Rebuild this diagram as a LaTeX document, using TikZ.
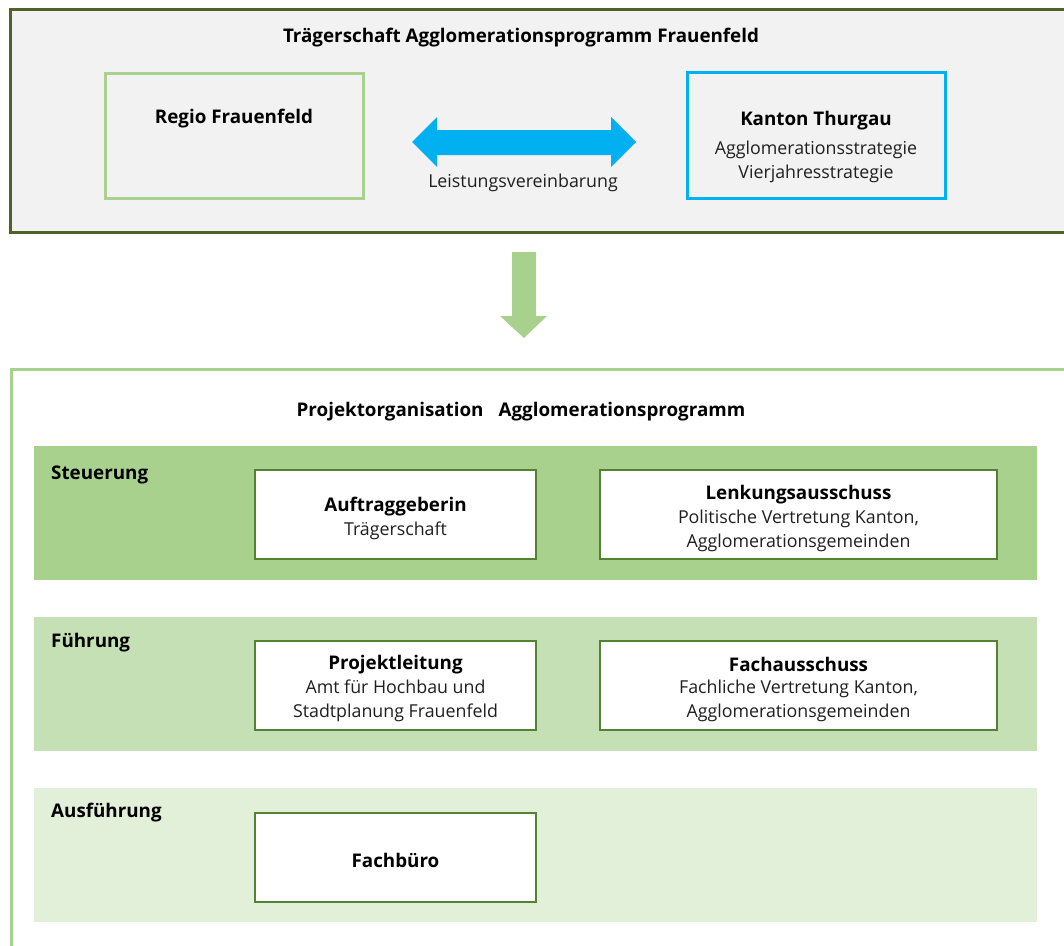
\documentclass[tikz,border=0pt]{standalone}
\usepackage{fontspec}
\setmainfont{Open Sans}
\definecolor{darkg}{HTML}{4F6228}
\definecolor{lightg}{HTML}{A9D18E}
\definecolor{midg}{HTML}{C5E0B4}
\definecolor{paleg}{HTML}{E2F0D9}
\definecolor{boxg}{HTML}{548235}
\definecolor{sky}{HTML}{00B0F0}
\definecolor{grayf}{HTML}{F2F2F2}
\begin{document}
\begin{tikzpicture}[x=1pt,y=-1pt,
  txt/.style={font=\fontsize{17.8}{24}\selectfont, align=center, inner sep=0pt, text=black!88, yshift=-2.5pt},
  btxt/.style={font=\fontsize{18.8}{24}\selectfont\bfseries, align=center, inner sep=0pt, text=black, yshift=-2.5pt},
  orgbox/.style={draw=boxg, line width=2pt, fill=white, minimum width=281pt, minimum height=89pt, inner sep=0pt},
  widebox/.style={draw=boxg, line width=2pt, fill=white, minimum width=397pt, minimum height=89pt, inner sep=0pt},
  band/.style={draw=none, minimum width=1003pt, minimum height=134pt, inner sep=0pt}]
\clip (0,0) rectangle (1064,945);
\fill[white] (0,0) rectangle (1064,945);
% top frame
\draw[darkg, line width=3pt, fill=grayf] (10,9) rectangle (1080,232);
\node[btxt] (toptitle) at (521,35) {Trägerschaft Agglomerationsprogramm Frauenfeld};
\node[draw=lightg, line width=3pt, minimum width=258pt, minimum height=125pt, inner sep=0pt] (regio) at (234,135.5) {};
\node[btxt] (regiot) at (234,116) {Regio Frauenfeld};
\node[draw=sky, line width=3pt, minimum width=258pt, minimum height=126pt, inner sep=0pt] (kanton) at (816,135) {};
\node[btxt] (kantont) at (816,118) {Kanton Thurgau};
\node[txt] (kantons) at (816,159) {Agglomerationsstrategie\\Vierjahresstrategie};
% double arrow
\coordinate (dl) at (412,142);
\coordinate (dr) at (636,142);
\fill[sky] (dl) -- (437,117) -- (437,130) -- (611,130) -- (611,117) -- (dr) -- (611,167) -- (611,155) -- (437,155) -- (437,167) -- cycle;
\node[txt] (leist) at (523,180) {Leistungsvereinbarung};
% down arrow
\coordinate (tip) at (524,338);
\fill[lightg] (512,252) -- (536,252) -- (536,316) -- (547,316) -- (tip) -- (500,316) -- (512,316) -- cycle;
% bottom frame
\draw[lightg, line width=3pt, fill=white] (11.5,369) rectangle (1080,960);
\node[btxt] (bottitle) at (521,409) {Projektorganisation\hspace{0.8em}Agglomerationsprogramm};
% bands
\node[band, fill=lightg] (steu) at (535.5,513) {};
\node[band, fill=midg] (fueh) at (535.5,683.5) {};
\node[band, fill=paleg] (ausf) at (535.5,855) {};
\node[btxt, anchor=west] (steul) at (51,472) {Steuerung};
\node[btxt, anchor=west] (fuehl) at (51,640) {Führung};
\node[btxt, anchor=west] (ausfl) at (51,810) {Ausführung};
% boxes
\node[orgbox] (auftrag) at (395.5,514.5) {};
\node[btxt] (auftragt) at (395.5,504) {Auftraggeberin};
\node[txt] (auftrags) at (395.5,528) {Trägerschaft};
\node[widebox] (lenk) at (798.5,514.5) {};
\node[btxt] (lenkt) at (798.5,492) {Lenkungsausschuss};
\node[txt] (lenks) at (798.5,528) {Politische Vertretung Kanton,\\Agglomerationsgemeinden};
\node[orgbox] (projekt) at (395.5,685.5) {};
\node[btxt] (projektt) at (395.5,662) {Projektleitung};
\node[txt] (projekts) at (395.5,698) {Amt für Hochbau und\\Stadtplanung Frauenfeld};
\node[widebox] (fach) at (798.5,685.5) {};
\node[btxt] (facht) at (798.5,662) {Fachausschuss};
\node[txt] (fachs) at (798.5,698) {Fachliche Vertretung Kanton,\\Agglomerationsgemeinden};
\node[orgbox] (buero) at (395.5,857) {};
\node[btxt] (buerot) at (395.5,858) {Fachbüro};
\end{tikzpicture}
\end{document}
